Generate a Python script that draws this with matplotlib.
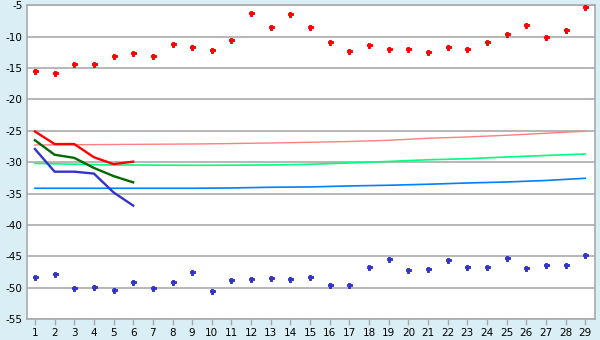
import numpy as np
import matplotlib
matplotlib.use("Agg")
from matplotlib import pyplot as plt

days = list(range(1, 30))

# scattered points
red_pts = [-15.5, -15.8, -14.4, -14.4, -13.0, -12.6, -13.1, -11.2, -11.7,
           -12.2, -10.6, -6.3, -8.5, -6.4, -8.5, -10.9, -12.3, -11.4, -12.0,
           -12.0, -12.5, -11.7, -11.9, -10.9, -9.6, -8.2, -10.1, -9.0, -5.2]
blue_pts = [-48.3, -47.8, -50.1, -49.9, -50.4, -49.0, -50.1, -49.0, -47.5,
            -50.5, -48.8, -48.6, -48.5, -48.6, -48.3, -49.6, -49.6, -46.7, -45.4,
            -47.2, -47.0, -45.6, -46.7, -46.7, -45.3, -46.9, -46.4, -46.4, -44.8]

# short thick lines (days 1-6)
line_days = [1, 2, 3, 4, 5, 6]
red_line = [-25.1, -27.1, -27.1, -29.2, -30.3, -29.9]
green_line = [-26.5, -28.8, -29.3, -30.9, -32.2, -33.2]
blue_line = [-27.9, -31.5, -31.5, -31.8, -34.8, -36.9]

# thin trend lines
trend_days = [1, 5, 9, 11, 13, 15, 17, 19, 21, 23, 25, 27, 29]
trend_red = [-27.25, -27.17, -27.09, -27.02, -26.93, -26.82, -26.69, -26.5,
             -26.18, -25.97, -25.7, -25.38, -25.06]
trend_green = [-30.19, -30.43, -30.48, -30.46, -30.43, -30.32, -30.11, -29.87,
               -29.6, -29.44, -29.16, -28.92, -28.68]
trend_blue = [-34.14, -34.14, -34.14, -34.09, -33.98, -33.93, -33.77, -33.66,
              -33.5, -33.3, -33.14, -32.9, -32.55]

bg = '#DAEFF5'
grid_col = '#AAAAAA'

fig = plt.figure(figsize=(6, 3.4), dpi=100, facecolor=bg)
ax = fig.add_axes([0.0445, 0.061, 0.9472, 0.9235])
ax.set_facecolor('white')

ax.plot(trend_days, trend_red, color='#FF8080', lw=1.0, zorder=3)
ax.plot(trend_days, trend_green, color='#00FF80', lw=1.2, zorder=3)
ax.plot(trend_days, trend_blue, color='#0080FF', lw=1.2, zorder=3)

ax.plot(line_days, red_line, color='#FF0000', lw=1.7, zorder=4)
ax.plot(line_days, green_line, color='#006A00', lw=1.7, zorder=4)
ax.plot(line_days, blue_line, color='#3333CC', lw=1.7, zorder=4)

ax.plot(days, red_pts, ls='none', marker='P', ms=3.6, mew=0.7,
        color='#FF0000', zorder=5)
ax.plot(days, blue_pts, ls='none', marker='P', ms=3.6, mew=0.7,
        color='#3333CC', zorder=5)

ax.set_xlim(0.58, 29.5)
ax.set_ylim(-55, -5)
ax.set_xticks(days)
ax.set_xticklabels([str(d) for d in days])
ax.set_yticks(range(-55, 0, 5))
ax.set_yticklabels([str(v) for v in range(-55, 0, 5)])

ax.yaxis.grid(True, color=grid_col, lw=1.2)
ax.set_axisbelow(True)
for side in ['left', 'bottom', 'right', 'top']:
    ax.spines[side].set_color(grid_col)
    ax.spines[side].set_linewidth(1.2)

ax.tick_params(axis='x', length=4, width=1, color=grid_col, pad=2,
               labelsize=7.5, labelcolor='black')
ax.tick_params(axis='y', length=0, pad=3, labelsize=7.5, labelcolor='black')

fig.savefig('out.png', dpi=100, facecolor=bg)
